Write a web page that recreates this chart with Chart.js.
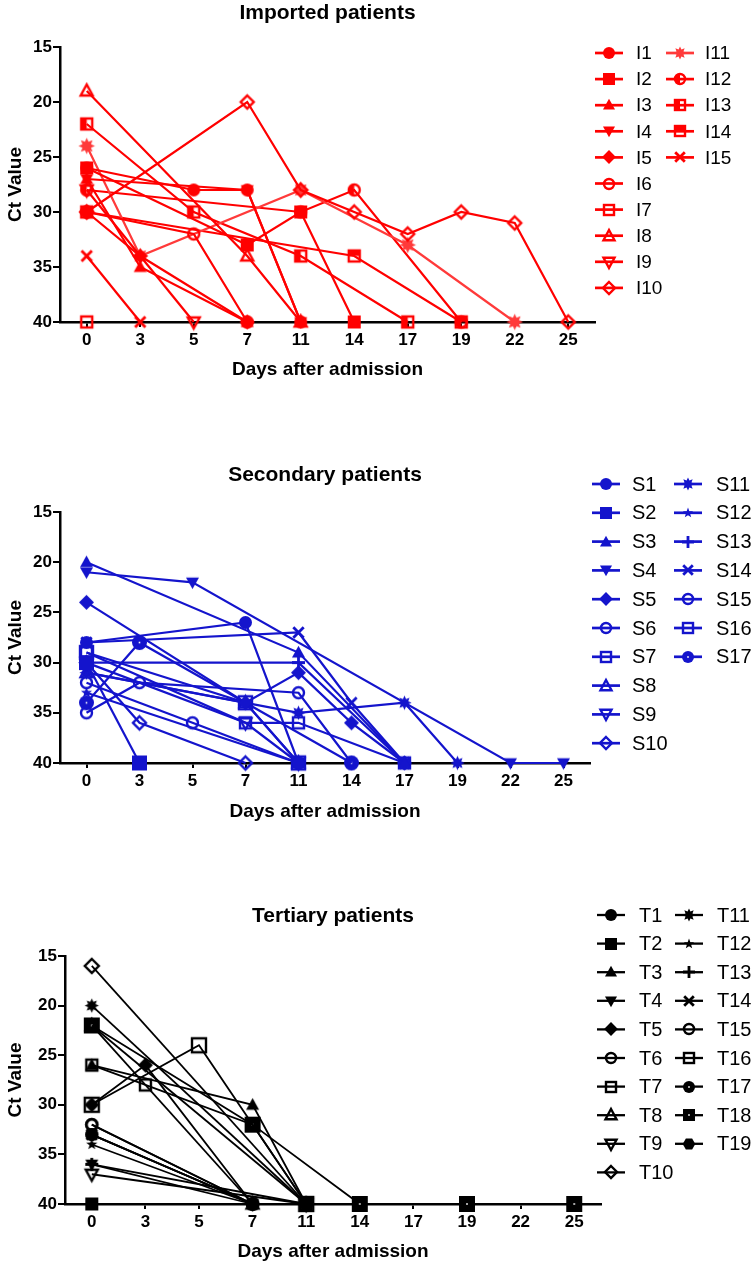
<!DOCTYPE html>
<html>
<head>
<meta charset="utf-8">
<script src="https://cdn.jsdelivr.net/npm/chart.js@4"></script>
<style>
  body { margin: 0; background: #fff; }
  .panel { position: absolute; left: 0; }
</style>
</head>
<body>
<canvas id="imported" class="panel" width="754" height="381" style="top:0px"></canvas>
<canvas id="secondary" class="panel" width="754" height="393" style="top:430px"></canvas>
<canvas id="tertiary" class="panel" width="754" height="393" style="top:870px"></canvas>
<script>
// days after admission (categorical axis, equally spaced)
const days = ['0', '3', '5', '7', '11', '14', '17', '19', '22', '25'];
const yTicks = [15, 20, 25, 30, 35, 40];
const _ = null;

// Ct values, one row per patient, aligned with days
const importedNames = ['I1', 'I2', 'I3', 'I4', 'I5', 'I6', 'I7', 'I8', 'I9', 'I10', 'I11', 'I12', 'I13', 'I14', 'I15'];
const importedCt = [
  [26, _, 28, 28, 40, _, _, _, _, _],
  [26, _, _, 33, 30, 40, _, _, _, _],
  [27, 35, _, 40, _, _, _, _, _, _],
  [27, _, _, 28, 40, _, _, _, _, _],
  [30, 34, _, 40, _, _, _, _, _, _],
  [30, _, 32, 40, _, _, _, _, _, _],
  [40, _, _, _, _, _, _, _, _, _],
  [19, _, _, 34, 40, _, _, _, _, _],
  [28, _, 40, _, _, _, _, _, _, _],
  [30, _, _, 20, 28, 30, 32, 30, 31, 40],
  [24, 34, _, _, 28, _, 33, _, 40, _],
  [28, _, _, _, 30, 28, _, 40, _, _],
  [22, _, 30, _, 34, _, 40, _, _, _],
  [30, _, _, _, _, 34, _, 40, _, _],
  [34, 40, _, _, _, _, _, _, _, _]
];

const secondaryNames = ['S1', 'S2', 'S3', 'S4', 'S5', 'S6', 'S7', 'S8', 'S9', 'S10', 'S11', 'S12', 'S13', 'S14', 'S15', 'S16', 'S17'];
const secondaryCt = [
  [28, _, _, 26, 40, _, _, _, _, _],
  [30, 40, _, _, _, _, _, _, _, _],
  [20, _, _, _, 29, _, 40, _, _, _],
  [21, _, 22, _, _, _, _, _, 40, 40],
  [24, _, _, 34, 31, 36, 40, _, _, _],
  [35, 32, _, _, 33, 40, _, _, _, _],
  [29, _, _, 36, 36, _, 40, _, _, _],
  [31, _, _, 34, 40, _, _, _, _, _],
  [30, _, _, 36, 40, _, _, _, _, _],
  [30, 36, _, 40, _, _, _, _, _, _],
  [31, _, _, _, 35, _, 34, 40, _, _],
  [33, _, _, _, 40, _, _, _, _, _],
  [30, _, _, _, 30, _, 40, _, _, _],
  [28, _, _, _, 27, 34, 40, _, _, _],
  [32, _, 36, _, 40, _, _, _, _, _],
  [29, _, _, 34, 40, _, _, _, _, _],
  [34, 28, _, _, _, 40, _, _, _, _]
];

const tertiaryNames = ['T1', 'T2', 'T3', 'T4', 'T5', 'T6', 'T7', 'T8', 'T9', 'T10', 'T11', 'T12', 'T13', 'T14', 'T15', 'T16', 'T17', 'T18', 'T19'];
const tertiaryCt = [
  [33, _, _, 40, _, _, _, _, _, _],
  [40, _, _, _, _, _, _, _, _, _],
  [26, _, _, 30, 40, _, _, _, _, _],
  [36, _, _, 40, _, _, _, _, _, _],
  [30, 26, _, 40, _, _, _, _, _, _],
  [32, _, _, 40, _, _, _, _, _, _],
  [26, 28, _, 32, 40, _, _, _, _, _],
  [22, _, _, 40, _, _, _, _, _, _],
  [37, _, _, _, 40, _, _, _, _, _],
  [16, _, _, _, 40, _, _, _, _, _],
  [20, _, _, _, 40, _, _, _, _, _],
  [34, _, _, 40, _, _, _, _, _, _],
  [36, _, _, _, 40, _, _, _, _, _],
  [33, _, _, 40, _, _, _, _, _, _],
  [32, _, _, 40, _, _, _, _, _, _],
  [30, _, 24, _, 40, _, _, _, _, _],
  [33, _, _, 40, _, _, _, _, _, _],
  [22, _, _, 32, _, 40, _, 40, _, 40],
  [22, _, _, _, 40, _, _, _, _, _]
];

// GraphPad-like symbol order
const symbolOrder = ['circle', 'square', 'tri', 'tridown', 'diamond', 'ocircle', 'osquare', 'otri', 'otridown', 'odiamond',
  'burst', 'star', 'plus', 'cross', 'ocircle', 'osquare', 'dcircle', 'dsquare', 'hex'];
const importedSymbols = symbolOrder.slice(0, 11).concat(['hcircle', 'hsquare', 'hsquare2', 'cross']);

const FONT = 'Arial, "Liberation Sans", sans-serif';

function makeMarker(kind, color, s) {
  const pad = 3;
  const size = Math.ceil(s + pad * 2);
  const c = document.createElement('canvas');
  c.width = c.height = size;
  const g = c.getContext('2d');
  const m = size / 2, r = s / 2;
  g.fillStyle = color;
  g.strokeStyle = color;
  g.lineWidth = 2.4;
  const poly = (pts, fill) => {
    g.beginPath();
    pts.forEach(([x, y], i) => i ? g.lineTo(m + x, m + y) : g.moveTo(m + x, m + y));
    g.closePath();
    fill ? g.fill() : g.stroke();
  };
  const starPts = (n, ro, ri) => {
    const pts = [];
    for (let i = 0; i < n * 2; i++) {
      const a = -Math.PI / 2 + i * Math.PI / n;
      const rr = i % 2 ? ri : ro;
      pts.push([Math.cos(a) * rr, Math.sin(a) * rr]);
    }
    return pts;
  };
  switch (kind) {
    case 'circle': g.beginPath(); g.arc(m, m, r, 0, 7); g.fill(); break;
    case 'square': g.fillRect(m - r, m - r, s, s); break;
    case 'tri': poly([[0, -r * 1.05], [r, r * 0.75], [-r, r * 0.75]], true); break;
    case 'tridown': poly([[0, r * 1.05], [r, -r * 0.75], [-r, -r * 0.75]], true); break;
    case 'diamond': poly([[0, -r * 1.15], [r * 1.15, 0], [0, r * 1.15], [-r * 1.15, 0]], true); break;
    case 'ocircle': g.beginPath(); g.arc(m, m, r - 1, 0, 7); g.stroke(); break;
    case 'osquare': g.strokeRect(m - r + 1, m - r + 1, s - 2, s - 2); break;
    case 'otri': poly([[0, -r], [r - 0.5, r * 0.7], [-r + 0.5, r * 0.7]], false); break;
    case 'otridown': poly([[0, r], [r - 0.5, -r * 0.7], [-r + 0.5, -r * 0.7]], false); break;
    case 'odiamond': poly([[0, -r], [r, 0], [0, r], [-r, 0]], false); break;
    case 'burst': poly(starPts(8, r * 1.1, r * 0.62), true); break;
    case 'star': poly(starPts(5, r * 0.9, r * 0.38), true); break;
    case 'plus':
      g.lineWidth = 2.8; g.beginPath();
      g.moveTo(m - r, m); g.lineTo(m + r, m); g.moveTo(m, m - r); g.lineTo(m, m + r); g.stroke(); break;
    case 'cross':
      g.lineWidth = 2.8; g.beginPath();
      g.moveTo(m - r * 0.8, m - r * 0.8); g.lineTo(m + r * 0.8, m + r * 0.8);
      g.moveTo(m + r * 0.8, m - r * 0.8); g.lineTo(m - r * 0.8, m + r * 0.8); g.stroke(); break;
    case 'hcircle':
      g.beginPath(); g.arc(m, m, r - 1, 0, 7); g.stroke();
      g.beginPath(); g.arc(m, m, r - 1, Math.PI / 2, Math.PI * 1.5); g.fill(); break;
    case 'hsquare':
      g.strokeRect(m - r + 1, m - r + 1, s - 2, s - 2); g.fillRect(m - r + 1, m - r + 1, r - 1, s - 2); break;
    case 'hsquare2':
      g.strokeRect(m - r + 1, m - r + 1, s - 2, s - 2); g.fillRect(m - r + 1, m - r + 1, s - 2, r - 1); break;
    case 'dcircle':
      g.beginPath(); g.arc(m, m, r, 0, 7); g.fill();
      g.fillStyle = '#fff'; g.fillRect(m - 0.8, m - 0.8, 1.6, 1.6); break;
    case 'dsquare':
      g.fillRect(m - r, m - r, s, s);
      g.fillStyle = '#fff'; g.fillRect(m - 0.8, m - 0.8, 1.6, 1.6); break;
    case 'hex': {
      const pts = [];
      for (let i = 0; i < 6; i++) { const a = i * Math.PI / 3; pts.push([Math.cos(a) * r * 1.05, Math.sin(a) * r * 1.05]); }
      poly(pts, true); break;
    }
  }
  return c;
}

// titles + two-column side legend drawn on the chart canvas
const panelDeco = {
  id: 'panelDeco',
  afterDraw(chart, args, opts) {
    const ctx = chart.ctx;
    const a = chart.chartArea;
    ctx.save();
    ctx.fillStyle = '#000';
    ctx.font = 'bold 21px ' + FONT;
    ctx.textAlign = 'center';
    ctx.textBaseline = 'middle';
    ctx.fillText(opts.title, (a.left + a.right) / 2, opts.titleY);
    chart.data.datasets.forEach((ds, i) => {
      const col = i < opts.perCol ? 0 : 1;
      const row = col ? i - opts.perCol : i;
      const c = opts.cols[col];
      const y = c.y + row * c.dy;
      ctx.strokeStyle = ds.borderColor;
      ctx.lineWidth = ds.borderWidth + 0.5;
      ctx.beginPath();
      ctx.moveTo(c.mx - 14, y);
      ctx.lineTo(c.mx + 14, y);
      ctx.stroke();
      const img = ds.legendMarker;
      ctx.drawImage(img, Math.round(c.mx - img.width / 2), Math.round(y - img.height / 2));
      ctx.fillStyle = '#000';
      ctx.font = opts.font;
      ctx.textAlign = 'left';
      ctx.fillText(ds.label, c.tx, y + 1);
    });
    ctx.restore();
  }
};

function buildPanel(id, names, values, symbols, colorOf, lw, sizeOf, geo, deco) {
  const canvas = document.getElementById(id);
  const datasets = names.map((name, i) => {
    const color = colorOf(i);
    return {
      label: name,
      data: values[i],
      borderColor: color,
      backgroundColor: color,
      borderWidth: lw,
      pointStyle: makeMarker(symbols[i], color, sizeOf(i)),
      legendMarker: makeMarker(symbols[i], color, 12),
      pointRadius: 7,
      pointHoverRadius: 7,
      spanGaps: true,
      clip: false,
      tension: 0,
      fill: false
    };
  });
  const tickFont = { family: FONT, size: 17, weight: 'bold' };
  const titleFont = { family: FONT, size: 19, weight: 'bold' };
  return new Chart(canvas, {
    type: 'line',
    data: { labels: days, datasets },
    options: {
      responsive: false,
      animation: false,
      events: [],
      layout: { padding: { top: geo.top, right: canvas.width - geo.right, left: 0, bottom: 0 } },
      plugins: {
        legend: { display: false },
        title: { display: false },
        tooltip: { enabled: false },
        panelDeco: deco
      },
      scales: {
        x: {
          type: 'category',
          offset: true,
          grid: { drawOnChartArea: false, tickLength: 5, color: '#000', lineWidth: 2 },
          border: { color: '#000', width: 2.5 },
          ticks: { color: '#000', font: tickFont, padding: 3, maxRotation: 0, autoSkip: false },
          title: { display: true, text: 'Days after admission', color: '#000', font: titleFont, padding: 0 },
          afterFit: s => { s.height = canvas.height - geo.bottom; }
        },
        y: {
          min: yTicks[0],
          max: yTicks[yTicks.length - 1],
          reverse: true,
          afterBuildTicks: s => { s.ticks = yTicks.map(v => ({ value: v })); },
          grid: { drawOnChartArea: false, tickLength: 7, color: '#000', lineWidth: 2 },
          border: { color: '#000', width: 2.5 },
          ticks: { color: '#000', font: tickFont, padding: 1 },
          title: { display: true, text: 'Ct Value', color: '#000', font: titleFont, padding: { top: 4, bottom: 0 } },
          afterFit: s => { s.width = geo.left; }
        }
      }
    },
    plugins: [panelDeco]
  });
}

buildPanel('imported', importedNames, importedCt, importedSymbols,
  i => (i === 10 ? '#ff3a3a' : '#ff0000'), 2.2,
  i => (i === 10 ? 15 : 13),
  { left: 60, right: 595, top: 47, bottom: 322 },
  {
    title: 'Imported patients', titleY: 13, perCol: 10, font: '19px ' + FONT,
    cols: [{ mx: 609, tx: 636, y: 53, dy: 26.1 }, { mx: 680, tx: 705, y: 53, dy: 26.1 }]
  });

buildPanel('secondary', secondaryNames, secondaryCt, symbolOrder,
  () => '#1414cc', 2.2,
  i => (i === 15 || i === 1 || i === 16 ? 15 : 13),
  { left: 60, right: 590, top: 82, bottom: 333 },
  {
    title: 'Secondary patients', titleY: 45, perCol: 10, font: '20px ' + FONT,
    cols: [{ mx: 606, tx: 632, y: 54, dy: 28.8 }, { mx: 688, tx: 716, y: 54, dy: 28.8 }]
  });

buildPanel('tertiary', tertiaryNames, tertiaryCt, symbolOrder,
  () => '#000000', 1.8,
  i => (i === 17 || i === 15 ? 16 : i === 9 ? 14 : 13),
  { left: 65, right: 601, top: 86, bottom: 334 },
  {
    title: 'Tertiary patients', titleY: 46, perCol: 10, font: '20px ' + FONT,
    cols: [{ mx: 611, tx: 639, y: 45, dy: 28.6 }, { mx: 689, tx: 717, y: 45, dy: 28.6 }]
  });
</script>
</body>
</html>
